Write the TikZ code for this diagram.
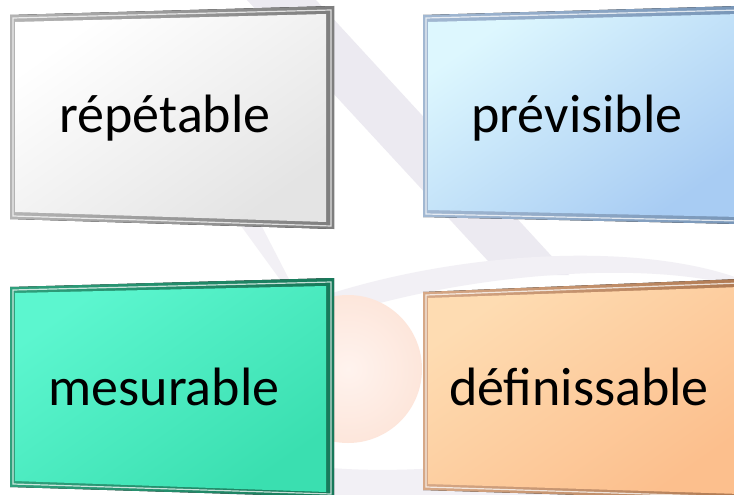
\documentclass[tikz,border=0pt]{standalone}
\usepackage{fontspec}
\setmainfont{Carlito}
\definecolor{swoosh}{HTML}{ECEAF1}
\definecolor{spherein}{HTML}{FFF3EE}
\definecolor{sphereout}{HTML}{FDE6DB}
\definecolor{frameA}{HTML}{B4B4B4}\definecolor{frameAd}{HTML}{7E7E7E}
\definecolor{frameB}{HTML}{A2B8D2}\definecolor{frameBd}{HTML}{7896B8}
\definecolor{frameC}{HTML}{2FA07C}\definecolor{frameCd}{HTML}{17795A}
\definecolor{frameD}{HTML}{D6A887}\definecolor{frameDd}{HTML}{B07A52}
\definecolor{panelA}{HTML}{FFFFFF}\definecolor{panelAd}{HTML}{E4E4E4}
\definecolor{panelB}{HTML}{DDF7FE}\definecolor{panelBd}{HTML}{A8CCF3}
\definecolor{panelC}{HTML}{5CF6CF}\definecolor{panelCd}{HTML}{3ADFB0}
\definecolor{panelD}{HTML}{FEDCB2}\definecolor{panelDd}{HTML}{FCBF8D}
\begin{document}
\begin{tikzpicture}[x=1pt, y=-1pt,
  word/.style={font=\fontsize{54}{60}\selectfont, text=black, anchor=base},
  bezel/.style 2 args={left color=#1, right color=#2},
  gleam/.style={draw=white, line width=1.2pt, opacity=0.75},
  panel/.style 2 args={top color=#1, bottom color=#2, shading angle=35}]
  \useasboundingbox (0,0) rectangle (734,495);
  \fill[white] (0,0) rectangle (734,495);
  \clip (0,0) rectangle (734,495);

  % Background swooshes
  \fill[swoosh] (247,0) -- (316,0) -- (569,275) -- (501,275) -- cycle;
  \fill[swoosh!70, even odd rule, rotate around={8:(480,385)}]
    (480,385) ellipse [x radius=330, y radius=122]
    (500,374) ellipse [x radius=302, y radius=90];
  \fill[swoosh!70] (236,219) -- (258,219) -- (292,285) -- (284,285) -- cycle;

  % Sphere
  \shade[inner color=spherein, outer color=sphereout] (348,369) circle [radius=74];

  % Top left (repetable)
  \fill[bezel={frameA}{frameAd}] (10,15) -- (334,6) -- (334,229) -- (10,219) -- cycle;
  \draw[gleam] (13,18) -- (331,10) -- (331,226) -- (13,216) -- cycle;
  \shade[panel={panelA}{panelAd}] (15,22) -- (326,14) -- (326,222) -- (15,212) -- cycle;
  \node[word] (rep) at (165,132) {répétable};

  % Top right (previsible)
  \fill[bezel={frameB}{frameBd}] (423,15) -- (740,6) -- (740,224) -- (423,217) -- cycle;
  \draw[gleam] (426,18) -- (740,10) -- (740,221) -- (426,214) -- cycle;
  \shade[panel={panelB}{panelBd}] (428,22) -- (740,14) -- (740,217) -- (428,210) -- cycle;
  \node[word] (prev) at (577,132) {prévisible};

  % Bottom left (mesurable)
  \fill[bezel={frameC}{frameCd}] (10,287) -- (334,278) -- (334,497) -- (10,487) -- cycle;
  \draw[gleam] (13,290) -- (331,282) -- (331,494) -- (13,484) -- cycle;
  \shade[panel={panelC}{panelCd}] (15,293) -- (326,286) -- (326,492) -- (15,481) -- cycle;
  \node[word] (mes) at (164,405) {mesurable};

  % Bottom right (definissable)
  \fill[bezel={frameD}{frameDd}] (423,292) -- (740,279) -- (740,500) -- (423,490) -- cycle;
  \draw[gleam] (426,295) -- (740,283) -- (740,497) -- (426,487) -- cycle;
  \shade[panel={panelD}{panelDd}] (428,298) -- (740,287) -- (740,494) -- (428,484) -- cycle;
  \node[word] (def) at (579,405) {définissable};
\end{tikzpicture}
\end{document}
